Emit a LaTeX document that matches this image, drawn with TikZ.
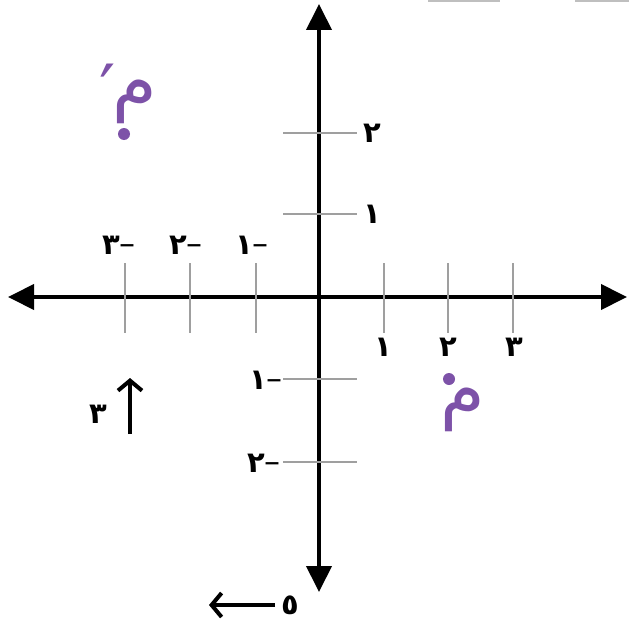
\documentclass[tikz,border=0pt]{standalone}
\usepackage{fontspec}
\usepackage{xcolor}
\usetikzlibrary{
    arrows.meta,
    positioning
}
\TeXXeTstate=1
\newfontfamily\arabicfont[Script=Arabic]{DejaVu Sans}
\newfontfamily\dashfont{DejaVu Sans}
\definecolor{pointpurple}{RGB}{125,82,168}
\newcommand{\negsign}{{\dashfont\mdseries\fontsize{32}{34}\selectfont –}}

\begin{document}
\begin{tikzpicture}[
x=1pt, y=-1pt,
axisline/.style={
line width=4pt,
{Triangle[length=26pt,width=25pt]}-{Triangle[length=26pt,width=25pt]}
},
tickline/.style={
gray!75,
line width=1.8pt
},
num/.style={
font=\fontsize{29}{32}\selectfont\arabicfont\bfseries,
inner sep=0pt
},
ptdot/.style={
circle,
fill=pointpurple,
inner sep=0pt,
minimum size=12pt
},
ptlabel/.style={
font=\fontsize{72}{76}\selectfont\arabicfont,
text=pointpurple,
inner sep=0pt
},
shiftarrow/.style={
line width=4pt,
-{Straight Barb[length=10pt,width=24pt]}
}
]

\useasboundingbox (0,0) rectangle (629,626);

% axes
\coordinate (xleft) at (8,297);
\coordinate (xright) at (627,297);
\coordinate (ybottom) at (319,592);
\coordinate (ytop) at (319,4);
\draw[axisline] (xleft) -- (xright);
\draw[axisline] (ybottom) -- (ytop);

% ticks on the x axis
\draw[tickline] (125,263) -- (125,333);
\draw[tickline] (190,263) -- (190,333);
\draw[tickline] (256,263) -- (256,333);
\draw[tickline] (384,263) -- (384,333);
\draw[tickline] (448,263) -- (448,333);
\draw[tickline] (513,263) -- (513,333);

% ticks on the y axis
\draw[tickline] (283,133) -- (357,133);
\draw[tickline] (283,214) -- (357,214);
\draw[tickline] (283,379) -- (357,379);
\draw[tickline] (283,462) -- (357,462);

% tick labels
\node[num] (xm3) at (119,245) {\beginR\negsign ٣\endR};
\node[num] (xm2) at (186,245) {\beginR\negsign ٢\endR};
\node[num] (xm1) at (252,245) {\beginR\negsign ١\endR};
\node[num] (xp1) at (383,347) {\beginR١\endR};
\node[num] (xp2) at (448,347) {\beginR٢\endR};
\node[num] (xp3) at (514,347) {\beginR٣\endR};
\node[num] (yp2) at (372,133) {\beginR٢\endR};
\node[num] (yp1) at (372,214) {\beginR١\endR};
\node[num] (ym1) at (266,380) {\beginR\negsign ١\endR};
\node[num] (ym2) at (264,463) {\beginR\negsign ٢\endR};

% points
\node[ptdot] (mprime) at (124,134) {};
\node[ptlabel, anchor=south] (mprimelabel) at (128,124) {\beginR م\kern-3pt\raisebox{-10pt}{′}\endR};
\node[ptdot] (m) at (449,379) {};
\node[ptlabel, anchor=north west] (mlabel) at (440,388) {\beginR م\endR};

% translation
\coordinate (upstart) at (130,434);
\coordinate (upend) at (130,378);
\draw[shiftarrow] (upstart) -- (upend);
\node[num] (upnum) at (98,414) {\beginR٣\endR};

\coordinate (leftstart) at (275,605);
\coordinate (leftend) at (209,605);
\draw[shiftarrow] (leftstart) -- (leftend);
\node[num, right=6pt of leftstart] (leftnum) {\beginR٥\endR};

% scraps along the top edge
\draw[gray!50, line width=2.5pt] (428,1) -- (500,1);
\draw[gray!50, line width=2.5pt] (575,1) -- (629,1);

\end{tikzpicture}
\end{document}
